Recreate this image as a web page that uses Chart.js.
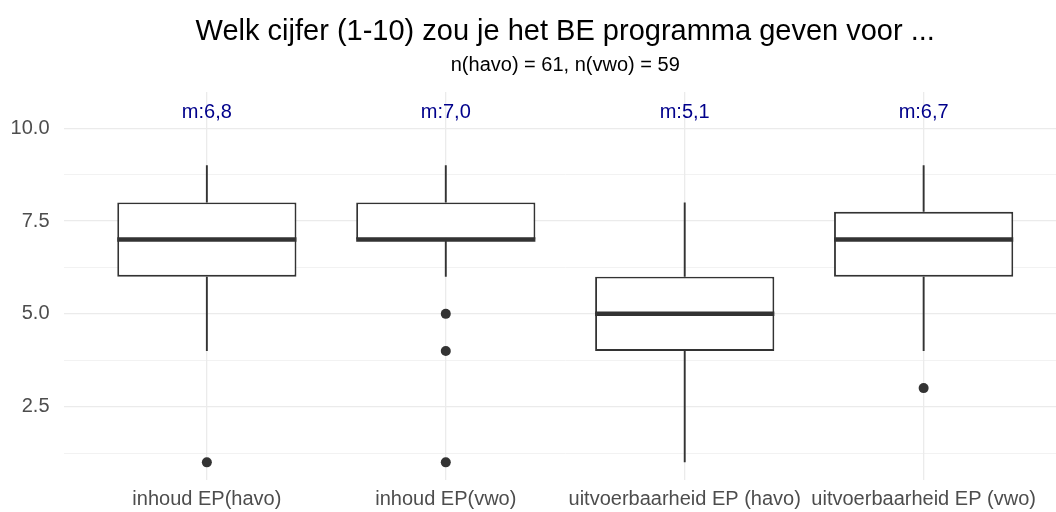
<!DOCTYPE html>
<html>
<head>
<meta charset="utf-8">
<script src="https://cdn.jsdelivr.net/npm/chart.js@4"></script>
<style>
  html, body { margin: 0; padding: 0; background: #ffffff; overflow: hidden; }
  #wrap { width: 1072px; height: 512px; }
</style>
</head>
<body>
<div id="wrap"><canvas id="c" width="1072" height="512"></canvas></div>
<script>
// ---- data ----
const categories = ['inhoud EP(havo)', 'inhoud EP(vwo)', 'uitvoerbaarheid EP (havo)', 'uitvoerbaarheid EP (vwo)'];
const whiskerLow  = [4, 6, 1, 4];
const q1          = [6, 7, 4, 6];
const median      = [7, 7, 5, 7];
const q3          = [8, 8, 6, 7.75];
const whiskerHigh = [9, 9, 8, 9];
const outliers    = [[1], [5, 4, 1], [], [3]];
const means       = [6.8, 7.0, 5.1, 6.7];
const meanLabelY  = 10.42;
const yTicks      = [1.25, 2.5, 3.75, 5, 6.25, 7.5, 8.75, 10];
const titleText    = 'Welk cijfer (1-10) zou je het BE programma geven voor ...';
const subtitleText = 'n(havo) = 61, n(vwo) = 59';

const FONT = "'Liberation Sans', Arial, Helvetica, sans-serif";
const DARK = '#333333';

const boxData = categories.map((c, i) => ({ x: i, y: [q1[i], q3[i]] }));
const outlierData = [];
outliers.forEach((arr, i) => arr.forEach(v => outlierData.push({ x: i, y: v })));

const boxPlugin = {
  id: 'boxExtras',
  beforeDatasetsDraw(chart) {
    const ctx = chart.ctx, xs = chart.scales.x, ys = chart.scales.y;
    ctx.save();
    ctx.strokeStyle = DARK;
    ctx.lineWidth = 1.9;
    ctx.lineCap = 'butt';
    categories.forEach((c, i) => {
      const x = xs.getPixelForValue(i);
      ctx.beginPath();
      ctx.moveTo(x, ys.getPixelForValue(q3[i]));
      ctx.lineTo(x, ys.getPixelForValue(whiskerHigh[i]));
      ctx.moveTo(x, ys.getPixelForValue(q1[i]));
      ctx.lineTo(x, ys.getPixelForValue(whiskerLow[i]));
      ctx.stroke();
    });
    ctx.restore();
  },
  afterDatasetsDraw(chart) {
    const ctx = chart.ctx, xs = chart.scales.x, ys = chart.scales.y;
    const meta = chart.getDatasetMeta(0);
    ctx.save();
    ctx.strokeStyle = DARK;
    ctx.lineWidth = 4.5;
    categories.forEach((c, i) => {
      const bar = meta.data[i];
      const half = bar.width / 2;
      const y = ys.getPixelForValue(median[i]);
      ctx.beginPath();
      ctx.moveTo(bar.x - half, y);
      ctx.lineTo(bar.x + half, y);
      ctx.stroke();
    });
    ctx.fillStyle = '#00008B';
    ctx.font = '20px ' + FONT;
    ctx.textAlign = 'center';
    ctx.textBaseline = 'middle';
    categories.forEach((c, i) => {
      const label = 'm:' + means[i].toFixed(1).replace('.', ',');
      ctx.fillText(label, xs.getPixelForValue(i), ys.getPixelForValue(meanLabelY));
    });
    ctx.restore();
  }
};

new Chart(document.getElementById('c'), {
  type: 'bar',
  data: {
    datasets: [
      {
        type: 'bar',
        data: boxData,
        backgroundColor: '#ffffff',
        borderColor: DARK,
        borderWidth: 1.9,
        borderSkipped: false,
        barPercentage: 0.75,
        categoryPercentage: 1,
        order: 2
      },
      {
        type: 'scatter',
        data: outlierData,
        pointRadius: 5,
        pointBackgroundColor: DARK,
        pointBorderWidth: 0,
        showLine: false,
        order: 1
      }
    ]
  },
  options: {
    responsive: false,
    animation: false,
    layout: { padding: { left: 0.5, right: 2, top: 0, bottom: 0 } },
    plugins: {
      legend: { display: false },
      tooltip: { enabled: false },
      title: {
        display: true,
        text: titleText,
        fullSize: false,
        color: '#000000',
        font: { family: FONT, size: 29, weight: 'normal', lineHeight: 1.0 },
        padding: { top: 17, bottom: 0.5 }
      },
      subtitle: {
        display: true,
        text: subtitleText,
        fullSize: false,
        color: '#000000',
        font: { family: FONT, size: 20, weight: 'normal', lineHeight: 1.2 },
        padding: { top: 7, bottom: 14.5 }
      }
    },
    scales: {
      x: {
        type: 'linear',
        min: -0.6,
        max: 3.6,
        offset: false,
        afterBuildTicks: s => { s.ticks = categories.map((c, i) => ({ value: i })); },
        afterFit: s => { s.height = 32; },
        ticks: {
          autoSkip: false,
          maxRotation: 0,
          padding: 7,
          color: '#4D4D4D',
          font: { family: FONT, size: 20 },
          callback: (v) => categories[v] ?? ''
        },
        grid: { color: '#EBEBEB', lineWidth: 1.3, drawTicks: false, offset: false },
        border: { display: false }
      },
      y: {
        type: 'linear',
        min: 0.525,
        max: 10.975,
        afterBuildTicks: s => { s.ticks = yTicks.map(v => ({ value: v })); },
        afterFit: s => { s.width = 63; },
        ticks: {
          padding: 14,
          color: '#4D4D4D',
          font: { family: FONT, size: 20 },
          callback: (v) => (Math.abs(v / 2.5 - Math.round(v / 2.5)) < 1e-9 ? v.toFixed(1) : '')
        },
        grid: {
          color: '#EBEBEB',
          drawTicks: false,
          lineWidth: (ctx) => (ctx.tick && Math.abs(ctx.tick.value / 2.5 - Math.round(ctx.tick.value / 2.5)) < 1e-9 ? 1.3 : 0.65)
        },
        border: { display: false }
      }
    }
  },
  plugins: [boxPlugin]
});
</script>
</body>
</html>
